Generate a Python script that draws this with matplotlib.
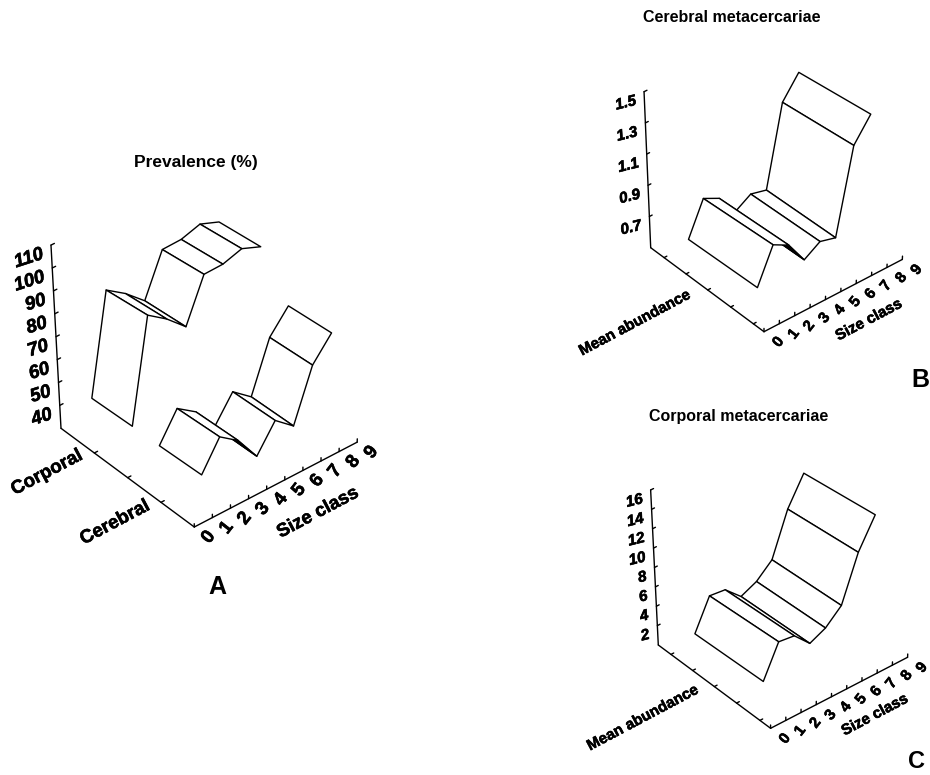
import matplotlib
matplotlib.use('Agg')
import matplotlib.pyplot as plt
import matplotlib.patheffects as pe
from matplotlib.patches import Polygon

plt.rcParams['font.family'] = ['Liberation Sans', 'DejaVu Sans']
plt.rcParams['font.weight'] = 'bold'

size_class = [0, 1, 2, 3, 4, 5, 6, 7]
size_ticks = [0, 1, 2, 3, 4, 5, 6, 7, 8, 9]

# panel A, prevalence (%)
prev_corporal = [53.3, 95.4, 89.9, 82.8, 100.6, 100.9, 103.4, 100.3]
prev_cerebral = [53.0, 64.3, 59.1, 49.2, 59.6, 53.7, 74.0, 83.0]
prev_ticks = [40, 50, 60, 70, 80, 90, 100, 110]

# panel B, cerebral metacercariae
cereb_abund = [0.730, 0.934, 0.885, 0.752, 0.812, 0.787, 1.281, 1.417]
cereb_ticks = [0.7, 0.9, 1.1, 1.3, 1.5]

# panel C, corporal metacercariae
corp_abund = [3.93, 6.93, 6.75, 5.29, 6.00, 7.38, 11.65, 14.45]
corp_ticks = [2, 4, 6, 8, 10, 12, 14, 16]

heavy = [pe.withStroke(linewidth=0.4, foreground='black')]


def project(p, s, f, v):
    # oblique view with a little perspective, pixel coordinates
    xb = p['o'][0] + s*p['ux'][0] + f*p['uy'][0]
    yb = p['o'][1] + s*p['ux'][1] + f*p['uy'][1]
    up = (v - p['v0'])*p['uz']*(1 + 0.1*f)
    return xb + (xb - p['xv'])/p['k']*up, yb - up


def line(ax, p, a, b):
    x0, y0 = project(p, *a)
    x1, y1 = project(p, *b)
    ax.plot([x0, x1], [y0, y1], color='black', lw=1.0, solid_capstyle='round')


def label(ax, x, y, s, fs, rot):
    ax.text(x, y, s, fontsize=fs, rotation=rot, ha='center', va='center',
            path_effects=heavy)


def draw_axes(ax, p, vals, labels, f_ticks, fs):
    line(ax, p, (0, 0, p['v0']), (0, 0, p['vtop']))
    line(ax, p, (0, 0, p['v0']), (0, 1, p['v0']))
    line(ax, p, (0, 1, p['v0']), (9, 1, p['v0']))
    tick_up = 3.0/p['uz']
    for v, lab in zip(vals, labels):
        line(ax, p, (0, 0, v), (0.18, 0, v))
        x, y = project(p, 0, 0, v)
        ax.text(x - 8, y + 9, lab, fontsize=fs, style='italic', rotation=p['zrot'],
                ha='right', va='center', rotation_mode='anchor', path_effects=heavy)
    for f in f_ticks:
        line(ax, p, (0, f, p['v0']), (0.18, f, p['v0']))
    for s in size_ticks:
        line(ax, p, (s, 1, p['v0']), (s, 1, p['v0'] + tick_up))
        x, y = project(p, s, 1, p['v0'])
        label(ax, x + 14.5, y + 10.5, str(s), fs, 52)


def cross(a, b, c):
    return (b[0]-a[0])*(c[1]-a[1]) - (b[1]-a[1])*(c[0]-a[0])


def ribbon(ax, p, vals, f0, f1):
    # high size classes are furthest from the viewer, draw them first
    for i in range(len(vals) - 2, -1, -1):
        b0 = project(p, size_class[i], f0, vals[i])
        b1 = project(p, size_class[i+1], f0, vals[i+1])
        f1p = project(p, size_class[i+1], f1, vals[i+1])
        f0p = project(p, size_class[i], f1, vals[i])
        ax.add_patch(Polygon([b0, b1, f1p, f0p], closed=True, facecolor='white',
                             edgecolor='black', lw=1.0, joinstyle='round'))
        # underside of a steep drop shows as a black sliver
        if cross(b1, f0p, f1p) > 0:
            ax.add_patch(Polygon([b1, f1p, f0p], closed=True, facecolor='black',
                                 edgecolor='black', lw=0.5))


fig = plt.figure(figsize=(9.3, 7.75), dpi=100)
ax = fig.add_axes([0, 0, 1, 1])
ax.set_xlim(0, 930)
ax.set_ylim(775, 0)
ax.axis('off')

panel_a = dict(o=(61, 428.3), ux=(18.1, -9.43), uy=(133.3, 98.7), uz=2.29,
               v0=30, vtop=110, xv=267, k=3767, zrot=18)
panel_b = dict(o=(650.7, 247.7), ux=(15.37, -8.03), uy=(113.3, 84), uz=156,
               v0=0.5, vtop=1.5, xv=767, k=2724, zrot=14)
panel_c = dict(o=(658.3, 645), ux=(15.22, -7.89), uy=(112.3, 83.3), uz=9.69,
               v0=0, vtop=16, xv=785, k=2566, zrot=14)

draw_axes(ax, panel_a, prev_ticks, [str(v) for v in prev_ticks], [0.25, 0.5, 0.75], 13.5)
draw_axes(ax, panel_b, cereb_ticks, [str(v) for v in cereb_ticks],
          [0.118, 0.312, 0.503, 0.706, 0.906], 11)
draw_axes(ax, panel_c, corp_ticks, [str(v) for v in corp_ticks],
          [0.113, 0.306, 0.499, 0.697, 0.905], 11)

ribbon(ax, panel_a, prev_corporal, 0.25, 0.55)
ribbon(ax, panel_a, prev_cerebral, 0.75, 1.0625)
ribbon(ax, panel_b, cereb_abund, 0.343, 0.943)
ribbon(ax, panel_c, corp_abund, 0.338, 0.938)

ax.text(195.5, 162, 'Prevalence (%)', fontsize=12.5, ha='center', va='center')
ax.text(732, 18, 'Cerebral metacercariae', fontsize=11.5, ha='center', va='center')
ax.text(739, 417, 'Corporal metacercariae', fontsize=11.5, ha='center', va='center')

label(ax, 318, 513, 'Size class', 13.5, 28)
label(ax, 47, 473, 'Corporal', 13.5, 28)
label(ax, 115, 523, 'Cerebral', 13.5, 28)
label(ax, 869, 320, 'Size class', 11, 28)
label(ax, 635, 323, 'Mean abundance', 11, 28)
label(ax, 875, 715, 'Size class', 11, 28)
label(ax, 643, 718, 'Mean abundance', 11, 28)

ax.text(217, 587, 'A', fontsize=18, ha='center', va='center')
ax.text(920, 380, 'B', fontsize=18, ha='center', va='center')
ax.text(925, 762, 'C', fontsize=17, ha='right', va='center')

fig.savefig('out.png', dpi=100)
